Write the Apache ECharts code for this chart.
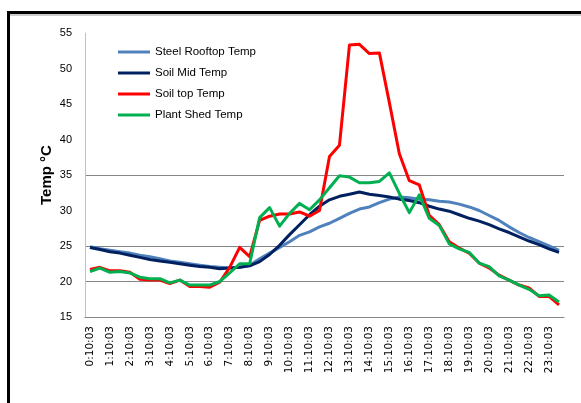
<!DOCTYPE html>
<html>
<head>
<meta charset="utf-8">
<script src="https://cdn.jsdelivr.net/npm/echarts@6/dist/echarts.min.js"></script>
<style>
  html, body { margin: 0; padding: 0; background: #fff; }
  #chart { width: 581px; height: 403px; }
</style>
</head>
<body>
<div id="chart"></div>
<script>
const categories = [
  '0:10:03','0:40:03','1:10:03','1:40:03','2:10:03','2:40:03','3:10:03','3:40:03',
  '4:10:03','4:40:03','5:10:03','5:40:03','6:10:03','6:40:03','7:10:03','7:40:03',
  '8:10:03','8:40:03','9:10:03','9:40:03','10:10:03','10:40:03','11:10:03','11:40:03',
  '12:10:03','12:40:03','13:10:03','13:40:03','14:10:03','14:40:03','15:10:03','15:40:03',
  '16:10:03','16:40:03','17:10:03','17:40:03','18:10:03','18:40:03','19:10:03','19:40:03',
  '20:10:03','20:40:03','21:10:03','21:40:03','22:10:03','22:40:03','23:10:03','23:40:03'
];

const steelRooftop = [24.9,24.6,24.4,24.2,24.0,23.7,23.5,23.2,22.9,22.7,22.5,22.3,
  22.1,22.0,21.9,22.0,22.3,23.2,24.0,24.8,25.6,26.5,27.0,27.7,
  28.2,28.9,29.6,30.2,30.5,31.1,31.6,31.9,31.8,31.6,31.5,31.3,
  31.2,30.9,30.5,30.0,29.3,28.6,27.7,26.9,26.2,25.6,25.0,24.4];

const soilMid = [24.8,24.5,24.2,24.0,23.7,23.4,23.1,22.9,22.7,22.5,22.3,22.1,
  22.0,21.8,21.9,22.0,22.2,22.8,23.8,25.1,26.6,28.0,29.4,30.6,
  31.5,32.0,32.3,32.6,32.3,32.1,31.9,31.6,31.4,31.1,30.6,30.2,
  29.9,29.4,28.9,28.5,28.0,27.4,26.9,26.3,25.7,25.2,24.6,24.1];

const soilTop = [21.7,22.0,21.5,21.5,21.3,20.3,20.2,20.2,19.7,20.2,19.3,19.3,
  19.2,19.9,22.0,24.8,23.5,28.6,29.2,29.5,29.5,29.8,29.2,30.0,
  37.6,39.2,53.3,53.4,52.1,52.2,45.2,38.0,34.2,33.6,29.3,28.0,
  25.6,24.7,24.0,22.6,21.9,20.9,20.2,19.5,19.1,17.9,17.9,16.7];

const plantShed = [21.4,21.9,21.3,21.4,21.2,20.6,20.4,20.4,19.8,20.2,19.5,19.5,
  19.5,20.0,21.2,22.5,22.5,29.0,30.4,27.8,29.6,31.0,30.1,31.5,
  33.2,34.9,34.7,33.9,33.9,34.1,35.3,32.4,29.7,32.2,28.9,27.9,
  25.3,24.6,24.1,22.6,22.1,20.8,20.2,19.5,18.9,18.0,18.1,17.1];

const seriesNames = ['Steel Rooftop Temp', 'Soil Mid Temp', 'Soil top Temp', 'Plant Shed Temp'];
const seriesColors = ['#4F81BD', '#002060', '#FF0000', '#00B050'];
const seriesData = [steelRooftop, soilMid, soilTop, plantShed];

const chart = echarts.init(document.getElementById('chart'), null, { renderer: 'canvas' });

const gridColor = '#868686';
// split lines visible at 20, 25, 35 only (as in the reference)
const splitColors = ['rgba(0,0,0,0)', gridColor, gridColor, 'rgba(0,0,0,0)', gridColor,
  'rgba(0,0,0,0)', 'rgba(0,0,0,0)', 'rgba(0,0,0,0)', 'rgba(0,0,0,0)'];

const option = {
  backgroundColor: '#fff',
  animation: false,
  textStyle: { fontFamily: 'Liberation Sans, Arial, sans-serif' },
  graphic: [{
    type: 'rect',
    shape: { x: 8.5, y: 12.5, width: 700, height: 500 },
    style: { fill: 'none', stroke: '#000', lineWidth: 3 },
    z: 100
  }, {
    type: 'line',
    shape: { x1: 10, y1: 15, x2: 700, y2: 15 },
    style: { stroke: '#999', lineWidth: 1 },
    z: 100
  }],
  grid: { left: 85, top: 33, right: 17, bottom: 86, containLabel: false },
  legend: {
    orient: 'vertical',
    left: 118,
    top: 44,
    padding: 0,
    itemWidth: 32,
    itemHeight: 14,
    itemGap: 5,
    icon: 'path://M0,6 L32,6 L32,9 L0,9 Z',
    textStyle: { fontFamily: 'Liberation Sans, Arial, sans-serif', fontSize: 11.5, color: '#000', lineHeight: 16 },
    data: seriesNames
  },
  xAxis: {
    type: 'category',
    data: categories,
    boundaryGap: true,
    axisLine: { lineStyle: { color: gridColor, width: 1 } },
    axisTick: { show: false },
    axisLabel: {
      interval: 1,
      rotate: 90,
      margin: 9,
      fontFamily: 'DejaVu Sans, sans-serif',
      fontSize: 10.5,
      color: '#000'
    },
    splitLine: { show: false }
  },
  yAxis: {
    type: 'value',
    min: 15,
    max: 55,
    interval: 5,
    name: 'Temp °C',
    nameLocation: 'middle',
    nameRotate: 90,
    nameGap: 31,
    nameMoveOverlap: false,
    nameTextStyle: { fontWeight: 'bold', fontSize: 15, color: '#000', fontFamily: 'Liberation Sans, Arial, sans-serif' },
    axisLine: { show: true, lineStyle: { color: '#BFBFBF', width: 1 } },
    axisTick: { show: false },
    axisLabel: { margin: 13, fontSize: 11, color: '#000' },
    splitLine: { show: true, lineStyle: { color: splitColors, width: 1 } }
  },
  series: seriesData.map((d, i) => ({
    name: seriesNames[i],
    type: 'line',
    data: d,
    symbol: 'none',
    smooth: false,
    color: seriesColors[i],
    lineStyle: { width: 3, color: seriesColors[i], join: 'round' },
    itemStyle: { color: seriesColors[i] },
    z: 2 + i
  }))
};

chart.setOption(option);
</script>
</body>
</html>
